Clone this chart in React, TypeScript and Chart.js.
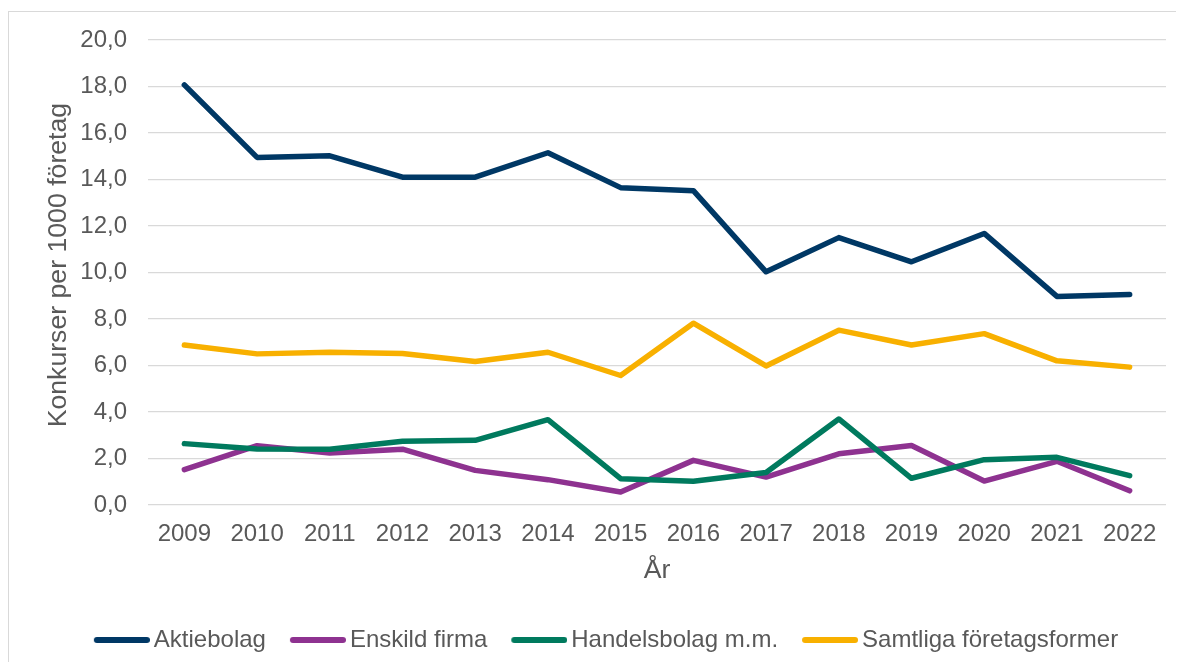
import React, { useEffect, useRef } from "react";
import { Chart, registerables } from "chart.js";

Chart.register(...registerables);

const years = ["2009", "2010", "2011", "2012", "2013", "2014", "2015", "2016", "2017", "2018", "2019", "2020", "2021", "2022"];
const aktiebolag = [18.07, 14.95, 15.02, 14.1, 14.1, 15.15, 13.65, 13.52, 10.03, 11.5, 10.46, 11.68, 8.97, 9.05];
const enskildFirma = [1.52, 2.55, 2.24, 2.4, 1.49, 1.09, 0.56, 1.92, 1.2, 2.2, 2.56, 1.03, 1.88, 0.61];
const handelsbolag = [2.64, 2.41, 2.4, 2.74, 2.78, 3.67, 1.13, 1.02, 1.4, 3.7, 1.15, 1.95, 2.05, 1.26];
const samtliga = [6.88, 6.5, 6.57, 6.52, 6.17, 6.57, 5.57, 7.82, 5.98, 7.52, 6.88, 7.37, 6.2, 5.93];

const seriesNames = ["Aktiebolag", "Enskild firma", "Handelsbolag m.m.", "Samtliga företagsformer"];
const seriesColors = ["#003865", "#8E3290", "#007A5E", "#F8B000"];
const yTitle = "Konkurser per 1000 företag";
const xTitle = "År";

const FONT = '"Liberation Sans", Arial, sans-serif';
const TEXT = "#595959";

function makeLegendLine(color: string): HTMLCanvasElement {
  const c = document.createElement("canvas");
  c.width = 60;
  c.height = 8;
  const ctx = c.getContext("2d")!;
  ctx.strokeStyle = color;
  ctx.lineWidth = 6;
  ctx.lineCap = "round";
  ctx.beginPath();
  ctx.moveTo(7, 4);
  ctx.lineTo(57, 4);
  ctx.stroke();
  return c;
}

export default function App() {
  const ref = useRef<HTMLCanvasElement | null>(null);

  useEffect(() => {
    if (!ref.current) return;
    Chart.defaults.font.family = FONT;
    const values = [aktiebolag, enskildFirma, handelsbolag, samtliga];
    const chart = new Chart(ref.current, {
      type: "line",
      data: {
        labels: years,
        datasets: values.map((v, i) => ({
          label: seriesNames[i],
          data: v,
          borderColor: seriesColors[i],
          backgroundColor: seriesColors[i],
          borderWidth: 5.5,
          pointRadius: 0,
          pointHoverRadius: 0,
          pointStyle: makeLegendLine(seriesColors[i]) as any,
          borderCapStyle: "round",
          borderJoinStyle: "round",
          tension: 0,
          fill: false,
          order: values.length - 1 - i,
        })),
      },
      options: {
        animation: false,
        responsive: false,
        maintainAspectRatio: false,
        devicePixelRatio: 1,
        layout: { padding: { top: 28, left: 0, right: 0, bottom: 0 } },
        plugins: {
          tooltip: { enabled: false },
          legend: {
            position: "bottom",
            labels: {
              usePointStyle: true,
              pointStyleWidth: 44,
              padding: 28,
              color: TEXT,
              font: { size: 24, family: FONT },
              sort: (a: any, b: any) => a.datasetIndex - b.datasetIndex,
            },
          },
        },
        scales: {
          x: {
            type: "category",
            offset: true,
            grid: { display: false, drawTicks: false },
            border: { display: false },
            ticks: { color: TEXT, font: { size: 24, family: FONT }, padding: 15, maxRotation: 0, autoSkip: false },
            title: {
              display: true,
              text: xTitle,
              color: TEXT,
              font: { size: 26.67, family: FONT },
              padding: { top: 0, bottom: 13 },
            },
            afterFit: (s: any) => {
              s.height = 95;
              s.paddingLeft = 0;
              s.paddingRight = 0;
            },
          },
          y: {
            position: "left",
            min: 0,
            max: 20,
            grid: { color: "#d9d9d9", lineWidth: 1.3, drawTicks: false },
            border: { display: false },
            ticks: {
              stepSize: 2,
              color: TEXT,
              font: { size: 24, family: FONT },
              padding: 21,
              callback: (v: any) => Number(v).toFixed(1).replace(".", ","),
            },
            title: {
              display: true,
              text: "  " + yTitle,
              color: TEXT,
              font: { size: 26.67, family: FONT },
              padding: { top: 33.5, bottom: 0 },
            },
            afterFit: (s: any) => {
              s.width = 139;
              s.paddingTop = 0;
              s.paddingBottom = 0;
            },
          },
          yRight: {
            position: "right",
            display: true,
            grid: { display: false, drawTicks: false },
            border: { display: false },
            ticks: { display: false },
            afterFit: (s: any) => {
              s.width = 41;
              s.paddingTop = 0;
              s.paddingBottom = 0;
            },
          },
        },
      },
    } as any);
    return () => chart.destroy();
  }, []);

  return (
    <div style={{ width: 1176, height: 654, overflow: "hidden", position: "relative" }}>
      <div
        style={{
          position: "absolute",
          left: 0,
          top: 3,
          width: 1210,
          height: 700,
          border: "1px solid #d9d9d9",
          boxSizing: "border-box",
          background: "#fff",
        }}
      >
        <canvas
          ref={ref}
          width={1198}
          height={650}
          style={{ position: "absolute", left: 0, top: 0, width: 1198, height: 650, display: "block" }}
        />
      </div>
    </div>
  );
}
